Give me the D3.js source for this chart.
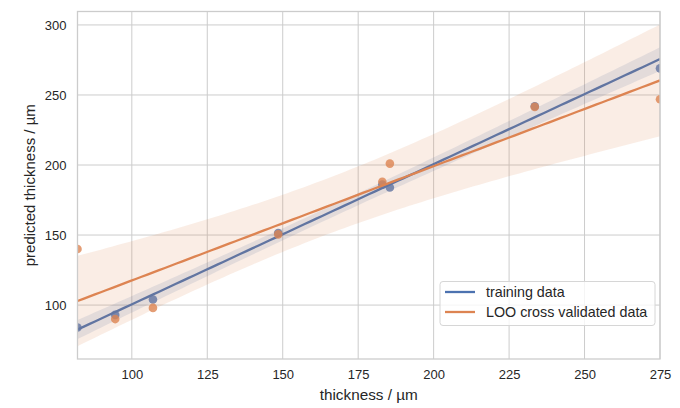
<!DOCTYPE html>
<html>
<head>
<meta charset="utf-8">
<script src="https://cdn.jsdelivr.net/npm/d3@7"></script>
<style>
  html, body { margin: 0; padding: 0; background: #ffffff; }
  svg { display: block; }
  text { font-family: "Liberation Sans", Arial, sans-serif; fill: #262626; }
</style>
</head>
<body>
<svg id="chart" width="680" height="408"></svg>
<script>
// ---- data ----
const thickness = [82, 94.5, 107, 148.5, 183, 185.5, 233.5, 275];
const trainingPred = [84, 93, 104, 151.5, 186, 184, 242, 269];
const looPred = [140, 90, 98, 150.5, 188, 201, 241.5, 247];
const seriesNames = ["training data", "LOO cross validated data"];
const xTicks = [100, 125, 150, 175, 200, 225, 250, 275];
const yTicks = [100, 150, 200, 250, 300];
const xDomain = [82, 275];
const yDomain = [61.5, 309.6];
const colors = ["#4c72b0", "#dd8452"];

const svg = d3.select("#chart");
const margin = { left: 77.5, right: 20, top: 11.5, bottom: 49 };
const W = 680, H = 408;
const x = d3.scaleLinear().domain(xDomain).range([margin.left, W - margin.right]);
const y = d3.scaleLinear().domain(yDomain).range([H - margin.bottom, margin.top]);

svg.append("defs").append("clipPath").attr("id", "clip")
  .append("rect")
  .attr("x", margin.left).attr("y", margin.top)
  .attr("width", W - margin.left - margin.right)
  .attr("height", H - margin.top - margin.bottom);

// grid
const grid = svg.append("g");
grid.selectAll(".vg").data(xTicks).join("line")
  .attr("x1", d => x(d)).attr("x2", d => x(d))
  .attr("y1", margin.top).attr("y2", H - margin.bottom)
  .attr("stroke", "#cccccc").attr("stroke-width", 1);
grid.selectAll(".hg").data(yTicks).join("line")
  .attr("y1", d => y(d)).attr("y2", d => y(d))
  .attr("x1", margin.left).attr("x2", W - margin.right)
  .attr("stroke", "#cccccc").attr("stroke-width", 1);

// regression with analytic 95% CI
const tCrit = 2.4469; // t(0.975, df = n - 2 = 6)
function fit(xs, ys) {
  const n = xs.length;
  const mx = d3.mean(xs), my = d3.mean(ys);
  const sxx = d3.sum(xs, v => (v - mx) ** 2);
  const sxy = d3.sum(xs.map((v, i) => (v - mx) * (ys[i] - my)));
  const b = sxy / sxx, a = my - b * mx;
  const sse = d3.sum(xs.map((v, i) => (ys[i] - (a + b * v)) ** 2));
  const s = Math.sqrt(sse / (n - 2));
  const grid = d3.range(0, 101).map(i => xDomain[0] + (xDomain[1] - xDomain[0]) * i / 100);
  return grid.map(g => {
    const yh = a + b * g;
    const se = s * Math.sqrt(1 / n + (g - mx) ** 2 / sxx);
    return { x: g, y: yh, lo: yh - tCrit * se, hi: yh + tCrit * se };
  });
}

const plot = svg.append("g").attr("clip-path", "url(#clip)");
const area = d3.area().x(d => x(d.x)).y0(d => y(d.lo)).y1(d => y(d.hi));
const line = d3.line().x(d => x(d.x)).y(d => y(d.y));

[trainingPred, looPred].forEach((ys, k) => {
  const pts = thickness.map((t, i) => ({ x: t, y: ys[i] }));
  plot.append("g").selectAll("circle").data(pts).join("circle")
    .attr("cx", d => x(d.x)).attr("cy", d => y(d.y)).attr("r", 4.3)
    .attr("fill", colors[k]).attr("fill-opacity", 0.8);
  const f = fit(thickness, ys);
  plot.append("path").datum(f).attr("d", area)
    .attr("fill", colors[k]).attr("fill-opacity", 0.15).attr("stroke", "none");
  plot.append("path").datum(f).attr("d", line)
    .attr("fill", "none").attr("stroke", colors[k]).attr("stroke-width", 2.3);
});

// spines
svg.append("rect")
  .attr("x", margin.left).attr("y", margin.top)
  .attr("width", W - margin.left - margin.right)
  .attr("height", H - margin.top - margin.bottom)
  .attr("fill", "none").attr("stroke", "#cccccc").attr("stroke-width", 1.3);

// axes tick labels
const xAxis = d3.axisBottom(x).tickValues(xTicks).tickSize(0).tickPadding(11);
const gx = svg.append("g").attr("transform", `translate(0,${H - margin.bottom})`).call(xAxis);
gx.select(".domain").remove();
gx.selectAll("text").attr("font-size", 13).attr("fill", "#262626")
  .style("font-family", '"Liberation Sans", Arial, sans-serif');

const yAxis = d3.axisLeft(y).tickValues(yTicks).tickSize(0).tickPadding(11);
const gy = svg.append("g").attr("transform", `translate(${margin.left},0)`).call(yAxis);
gy.select(".domain").remove();
gy.selectAll("text").attr("font-size", 13).attr("fill", "#262626")
  .style("font-family", '"Liberation Sans", Arial, sans-serif');

// axis labels
svg.append("text").attr("x", (margin.left + W - margin.right) / 2).attr("y", 400)
  .attr("text-anchor", "middle").attr("font-size", 15.3).text("thickness / µm");
svg.append("text")
  .attr("transform", `translate(35,${(margin.top + H - margin.bottom) / 2}) rotate(-90)`)
  .attr("text-anchor", "middle").attr("font-size", 15).text("predicted thickness / µm");

// legend
const lg = svg.append("g").attr("transform", "translate(440,281.5)");
lg.append("rect").attr("width", 215).attr("height", 44).attr("rx", 3)
  .attr("fill", "#ffffff").attr("fill-opacity", 0.8)
  .attr("stroke", "#d6d6d6").attr("stroke-width", 1);
seriesNames.forEach((name, i) => {
  const yy = 10.5 + i * 20;
  lg.append("line").attr("x1", 5).attr("x2", 35).attr("y1", yy).attr("y2", yy)
    .attr("stroke", colors[i]).attr("stroke-width", 2.3);
  lg.append("text").attr("x", 46).attr("y", yy).attr("dy", "0.35em")
    .attr("font-size", 14.3).text(name);
});
</script>
</body>
</html>
